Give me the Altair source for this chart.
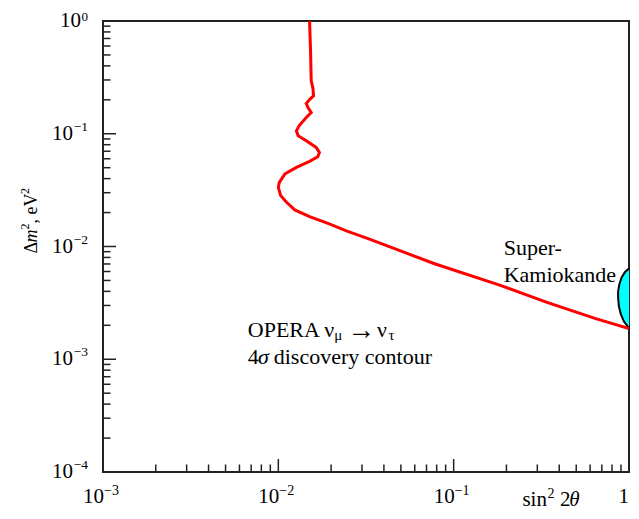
import altair as alt
import pandas as pd

# ---- data ----
# OPERA nu_mu -> nu_tau 4 sigma discovery contour
opera_sin2 = [0.01507, 0.01527, 0.01540, 0.01575, 0.01587, 0.01507, 0.01443, 0.01476,
              0.01540, 0.01443, 0.01313, 0.01268, 0.01297, 0.01443, 0.01643, 0.01715,
              0.01680, 0.01507, 0.01268, 0.01090, 0.01013, 0.01000, 0.01031, 0.01114,
              0.01241, 0.01507, 0.01953, 0.02424, 0.03279, 0.07783, 0.1848, 0.3379,
              0.3686, 0.6460, 1.0]
opera_dm2 = [1.0, 0.5427, 0.2944, 0.2537, 0.2170, 0.2011, 0.1854, 0.1709,
             0.1543, 0.1394, 0.1177, 0.1063, 0.0960, 0.08672, 0.07563, 0.06833,
             0.06259, 0.05686, 0.05031, 0.04398, 0.03707, 0.03348, 0.02828, 0.02466,
             0.02113, 0.01842, 0.01588, 0.01385, 0.01170, 0.007028, 0.004517, 0.003214,
             0.003067, 0.002292, 0.001869]

# Super-Kamiokande allowed region (visible part, left boundary)
sk_sin2 = [1.0, 0.9493, 0.9072, 0.8807, 0.8670, 0.8670, 0.8760, 0.8990, 0.9347, 1.0]
sk_dm2 = [0.006389, 0.005946, 0.005317, 0.004610, 0.003998, 0.003466, 0.002944,
          0.002502, 0.002169, 0.001880]

# axis ticks and labels
decades_x = [1e-3, 1e-2, 1e-1]
decades_y = [1e-4, 1e-3, 1e-2, 1e-1]
x_label_vals = [1e-3, 1e-2, 1e-1]
x_label_exps = ["\u22123", "\u22122", "\u22121"]
y_label_vals = [1.0, 1e-1, 1e-2, 1e-3, 1e-4]
y_label_exps = ["0", "\u22121", "\u22122", "\u22123", "\u22124"]

W, H = 526, 451
TOP = 21
FONT = "Liberation Serif"
xs = alt.Scale(type="log", domain=[1e-3, 1], nice=False)
ys = alt.Scale(type="log", domain=[1e-4, 1], nice=False)


def px(X):
    """reference page x -> plot-relative x"""
    return (X - 104) * W / 533.0


def py(Y):
    """reference page y -> plot-relative y"""
    return (Y - 20) * H / 452.0


# ---- marks ----
curve = pd.DataFrame({"x": opera_sin2, "y": opera_dm2, "i": list(range(len(opera_sin2)))})
red = alt.Chart(curve).mark_line(color="#ff0000", strokeWidth=3, clip=True).encode(
    x=alt.X("x:Q", scale=xs, axis=None),
    y=alt.Y("y:Q", scale=ys, axis=None),
    order="i:Q",
)

sk = pd.DataFrame({"x": sk_sin2, "y": sk_dm2, "i": list(range(len(sk_sin2)))})
sk_shape = alt.Chart(sk).mark_line(fill="#00ffff", stroke="black", strokeWidth=2).encode(
    x=alt.X("x:Q", scale=xs, axis=None),
    y=alt.Y("y:Q", scale=ys, axis=None),
    order="i:Q",
)

MAJ, MIN = 13, 7.5
TICKC = "#222222"
x_major = pd.DataFrame({"v": [1e-2, 1e-1]})
x_minor = pd.DataFrame({"v": [m * d for d in decades_x for m in range(2, 10)]})
y_major = pd.DataFrame({"v": [1e-3, 1e-2, 1e-1]})
y_minor = pd.DataFrame({"v": [m * d for d in decades_y for m in range(2, 10)]})


def xticks(df, ln):
    return alt.Chart(df).mark_rule(color=TICKC, strokeWidth=1.5).encode(
        x=alt.X("v:Q", scale=xs, axis=None), y=alt.value(H), y2=alt.value(H - ln))


def yticks(df, ln):
    return alt.Chart(df).mark_rule(color=TICKC, strokeWidth=1.5).encode(
        y=alt.Y("v:Q", scale=ys, axis=None), x=alt.value(0), x2=alt.value(ln))


xl = pd.DataFrame({"v": x_label_vals, "base": ["10"] * len(x_label_vals), "e": x_label_exps})
x_base = alt.Chart(xl).mark_text(align="right", baseline="alphabetic", dx=1, dy=31,
                                 font=FONT, fontSize=21, color="black").encode(
    x=alt.X("v:Q", scale=xs, axis=None), y=alt.value(H), text="base:N")
x_exp = alt.Chart(xl).mark_text(align="left", baseline="alphabetic", dx=1, dy=23,
                                font=FONT, fontSize=14, color="black").encode(
    x=alt.X("v:Q", scale=xs, axis=None), y=alt.value(H), text="e:N")
x_one = alt.Chart(pd.DataFrame({"v": [1.0], "t": ["1"]})).mark_text(
    align="right", baseline="alphabetic", dx=0, dy=31, font=FONT, fontSize=21, color="black").encode(
    x=alt.X("v:Q", scale=xs, axis=None), y=alt.value(H), text="t:N")

yl = pd.DataFrame({"v": y_label_vals, "base": ["10"] * len(y_label_vals), "e": y_label_exps})
y_exp_long = alt.Chart(yl).transform_filter("datum.e != '0'").mark_text(
    align="right", baseline="middle", dx=-15, dy=-7,
    font=FONT, fontSize=13.5, color="black").encode(
    y=alt.Y("v:Q", scale=ys, axis=None), x=alt.value(0), text="e:N")
y_exp_short = alt.Chart(yl).transform_filter("datum.e == '0'").mark_text(
    align="right", baseline="middle", dx=-15, dy=-4,
    font=FONT, fontSize=13, color="black").encode(
    y=alt.Y("v:Q", scale=ys, axis=None), x=alt.value(0), text="e:N")
y_base_short = alt.Chart(yl).transform_filter("datum.e == '0'").mark_text(
    align="right", baseline="middle", dx=-22, font=FONT, fontSize=21, color="black").encode(
    y=alt.Y("v:Q", scale=ys, axis=None), x=alt.value(0), text="base:N")
y_base_long = alt.Chart(yl).transform_filter("datum.e != '0'").mark_text(
    align="right", baseline="middle", dx=-30, font=FONT, fontSize=21, color="black").encode(
    y=alt.Y("v:Q", scale=ys, axis=None), x=alt.value(0), text="base:N")


def note(txt, x, y, size=22, style="normal", angle=0, dy=0, font=FONT):
    return alt.Chart(pd.DataFrame({"t": [txt]})).mark_text(
        align="left", baseline="alphabetic", font=font, fontSize=size, fontStyle=style,
        angle=angle, dy=dy, color="black").encode(x=alt.value(x), y=alt.value(y), text="t:N")


notes = [
    note("OPERA \u03bd", px(250.7), py(336.7)),
    note("\u03bc", px(338.3), py(340), size=15),
    note("\u2192", px(351.5), py(338.5), size=28),
    note("\u03bd", px(381.7), py(336.7)),
    note("\u03c4", px(393.3), py(340), size=15),
    note("4", px(250.7), py(363.3)),
    note("\u03c3", px(261.0), py(363.3), style="italic"),
    note("discovery contour", px(277.0), py(363.3)),
    note("Super-", px(510), py(255)),
    note("Kamiokande", px(510), py(281.7)),
    # x title: sin^2 2theta
    note("sin", px(529), 485, size=21),
    note("2", px(554.5), 477, size=14),
    note("2", px(567), 485, size=21),
    note("\u03b8", px(576.5), 485, size=21, style="italic"),
    # y title: Delta m^2, eV^2 (rotated)
    note("\u0394", -66, py(253), size=18, angle=270),
    note("m", -66, py(242), size=18, style="italic", angle=270),
    note("2", -66, py(229), size=12, angle=270, dy=-8),
    note(", eV", -66, py(223), size=18, angle=270),
    note("2", -66, py(193.5), size=12, angle=270, dy=-8),
]

chart = alt.layer(
    sk_shape, red,
    xticks(x_major, MAJ), xticks(x_minor, MIN), yticks(y_major, MAJ), yticks(y_minor, MIN),
    x_base, x_exp, x_one, y_exp_long, y_exp_short, y_base_short, y_base_long,
    *notes,
).properties(
    width=W, height=H,
    autosize=alt.AutoSizeParams(type="none"),
    padding={"left": 95, "top": TOP - 8, "right": 2, "bottom": 503 - (TOP - 8) - H},
    background="white",
).configure_view(stroke="#222222", strokeWidth=2)

chart.save("out.html", embed_options={"renderer": "svg", "actions": False})
